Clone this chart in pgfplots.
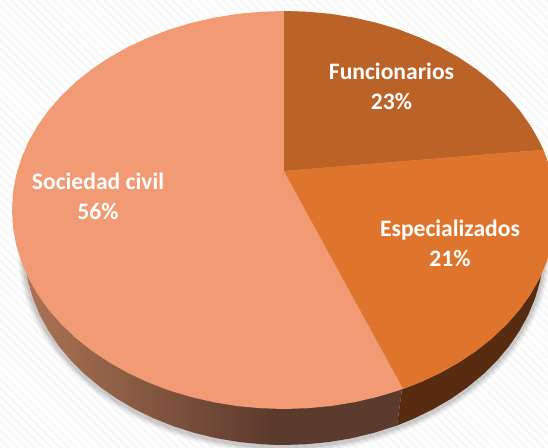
\documentclass[border=0pt]{standalone}
\usepackage{pgfplots}
\pgfplotsset{compat=1.18}
\usepackage{pgfplotstable}
\usepackage{fontspec}
\setmainfont{Carlito}
\usetikzlibrary{patterns.meta}
\definecolor{salmon}{HTML}{F19A73}
\definecolor{func}{HTML}{BB6326}
\definecolor{espec}{HTML}{DF752D}
\definecolor{rimdark}{HTML}{572C10}
\definecolor{rimmid}{HTML}{5C3A2D}
\definecolor{rimleft}{HTML}{AD7454}

% outline of the base, in picture pixels
\pgfplotstableread{
x y
544 247
543 264.3
540 281.4
535.1 298.2
528.3 314.7
519.6 330.7
509.2 346
497 360.6
483.2 374.3
467.8 387
451.1 398.7
433.1 409.2
414 418.5
393.9 426.4
372.9 433.1
351.3 438.3
329.1 442
306.7 444.2
284 445
261.3 444.2
238.9 442
216.7 438.3
195.1 433.1
174.1 426.4
154 418.5
134.9 409.2
116.9 398.7
100.2 387
84.8 374.3
71 360.6
58.8 346
48.4 330.7
39.7 314.7
32.9 298.2
28 281.4
25 264.3
24 247
}\baseoutline

\pgfplotstableread{
x y
24 240
24 247
25 264.3
28 281.4
32.9 298.2
39.7 314.7
48.4 330.7
58.8 346
71 360.6
84.8 374.3
100.2 387
116.9 398.7
134.9 409.2
154 418.5
174.1 426.4
195.1 433.1
216.7 438.3
238.9 442
261.3 444.2
272 444.7
272 240
}\rimleftpart

\pgfplotstableread{
x y
271 240
271 444.7
284 445
306.7 444.2
329.1 442
351.3 438.3
372.9 433.1
397 425.5
403.2 380
300 300
}\rimcentre

\pgfplotstableread{
x y
403.2 380
397 425.5
414 418.5
433.1 409.2
451.1 398.7
467.8 387
483.2 374.3
497 360.6
509.2 346
519.6 330.7
528.3 314.7
535.1 298.2
540 281.4
543 264.3
544 247
544 200
}\rimright

% whole top face, clockwise from the top
\pgfplotstableread{
x y
284 11
307.7 11.8
331.2 14
354.4 17.8
377 23
399 29.6
420 37.7
440 47
458.8 57.6
476.3 69.3
492.4 82.1
506.8 95.9
519.6 110.5
530.5 125.9
539.6 141.9
546.7 158.5
551.9 175.4
555 192.7
556 210
555 227.3
551.9 244.6
546.7 261.5
539.6 278.1
530.5 294.1
519.6 309.5
506.8 324.1
492.4 337.9
476.3 350.7
458.8 362.4
440 373
420 382.3
399 390.4
377 397
354.4 402.2
331.2 406
307.7 408.2
284 409
260.3 408.2
236.8 406
213.6 402.2
191 397
169 390.4
148 382.3
128 373
109.2 362.4
91.7 350.7
75.6 337.9
61.2 324.1
48.4 309.5
37.5 294.1
28.4 278.1
21.3 261.5
16.1 244.6
13 227.3
12 210
13 192.7
16.1 175.4
21.3 158.5
28.4 141.9
37.5 125.9
48.4 110.5
61.2 95.9
75.6 82.1
91.7 69.3
109.2 57.6
128 47
148 37.7
169 29.6
191 23
213.6 17.8
236.8 14
260.3 11.8
}\topface

\pgfplotstableread{
x y
284 171
284 11
307.7 11.8
331.2 14
354.4 17.8
377 23
399 29.6
420 37.7
440 47
458.8 57.6
476.3 69.3
492.4 82.1
506.8 95.9
519.6 110.5
530.5 125.9
539.6 141.9
543.3 149.8
}\funcionarios

\pgfplotstableread{
x y
284 171
543.3 149.8
546.7 158.5
551.9 175.4
555 192.7
556 210
555 227.3
551.9 244.6
546.7 261.5
539.6 278.1
530.5 294.1
519.6 309.5
506.8 324.1
492.4 337.9
476.3 350.7
458.8 362.4
440 373
420 382.3
403.2 388.9
}\especializados

\begin{document}
\begin{tikzpicture}
\begin{axis}[
    scale only axis,
    width=411pt,
    height=335.25pt,
    xmin=0, xmax=548,
    ymin=0, ymax=447,
    y dir=reverse,
    hide axis,
]
% paper
\addplot[draw=none, fill=white, forget plot] coordinates {(0,0)(548,0)(548,447)(0,447)};
\addplot[draw=none, pattern={Lines[angle=-45,distance=4.5pt,line width=1.4pt]}, pattern color=black!3, forget plot] coordinates {(0,0)(548,0)(548,447)(0,447)};
% soft shadow under the rim
\addplot[draw=black, opacity=0.05, line width=10pt, fill=none, yshift=-1pt] table {\baseoutline};
\addplot[draw=black, opacity=0.07, line width=7pt, fill=none, yshift=-1pt] table {\baseoutline};
\addplot[draw=black, opacity=0.09, line width=4pt, fill=none, yshift=-1pt] table {\baseoutline};
% rim
\addplot[draw=none, left color=rimleft, right color=rimmid] table {\rimleftpart};
\addplot[draw=none, fill=rimmid] table {\rimcentre};
\addplot[draw=none, fill=rimdark] table {\rimright};
% top face
\addplot[draw=none, fill=salmon] table {\topface};
\addplot[draw=none, fill=func] table {\funcionarios};
\addplot[draw=none, fill=espec] table {\especializados};
% labels
\node[white, font=\bfseries\fontsize{17.7}{20}\selectfont, align=center] at (axis cs:391.5,86.5) {Funcionarios\\[2.5pt]23\%};
\node[white, font=\bfseries\fontsize{17.7}{20}\selectfont, align=center] at (axis cs:450,243) {Especializados\\[2.5pt]21\%};
\node[white, font=\bfseries\fontsize{17.7}{20}\selectfont, align=center] at (axis cs:98,196.5) {Sociedad civil\\[2.5pt]56\%};
\end{axis}
\end{tikzpicture}
\end{document}
